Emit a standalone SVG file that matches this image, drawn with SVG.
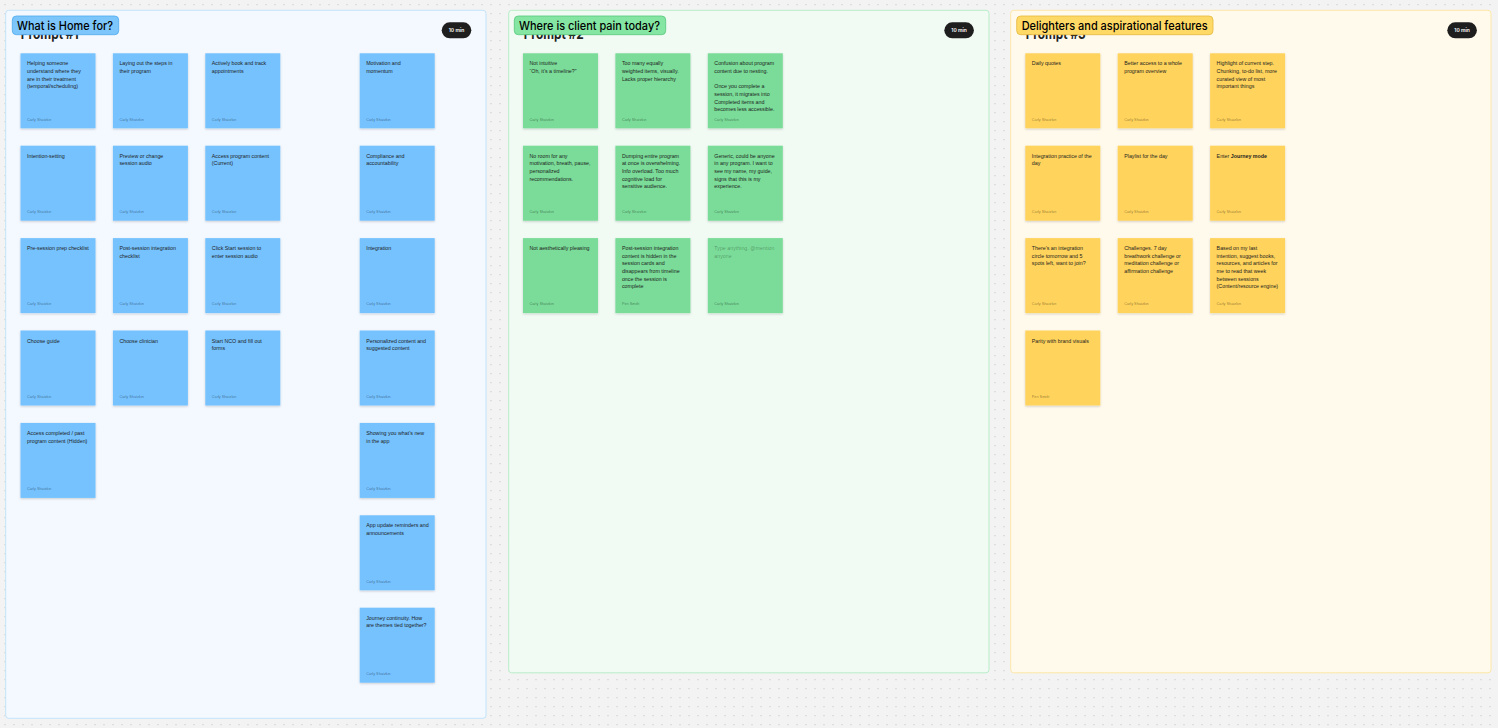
<svg xmlns="http://www.w3.org/2000/svg" width="1498" height="728" viewBox="0 0 1498 728">
<defs>
  <pattern id="dots" x="0" y="0" width="9" height="9" patternUnits="userSpaceOnUse">
    <rect x="4.5" y="4.2" width="1" height="1" fill="#bdbdbd"/>
  </pattern>
  <filter id="sh" x="-10%" y="-10%" width="120%" height="130%">
    <feDropShadow dx="0" dy="1" stdDeviation="0.8" flood-color="#000" flood-opacity="0.18"/>
  </filter>
  <style>
    .t { font-family: "Liberation Sans", Arial, sans-serif; font-size: 5.3px; fill: #1e1e1e; }
    .ph { fill: #000; fill-opacity: 0.32; }
    .a { font-family: "Liberation Sans", Arial, sans-serif; font-size: 3.8px; fill: #000; fill-opacity: 0.45; }
    .blue { fill: #75c2ff; filter: url(#sh); }
    .green { fill: #7adc98; filter: url(#sh); }
    .yellow { fill: #ffd35c; filter: url(#sh); }
    .lbl { font-family: Inter, "Liberation Sans", sans-serif; font-size: 12px; font-weight: 500; fill: #000; }
    .prompt { font-family: Inter, "Liberation Sans", sans-serif; font-size: 14px; font-weight: 700; fill: #1e1e1e; }
    .badge { fill: #1e1e1e; }
    .bt { font-family: Inter, "Liberation Sans", sans-serif; font-size: 5px; font-weight: 600; fill: #fff; text-anchor: middle; }
  </style>
</defs>

<rect width="1498" height="728" fill="#f3f3f3"/>
<rect width="1498" height="728" fill="url(#dots)"/>

<!-- Section 1 -->
<g id="section-1">
  <rect x="5.7" y="10.3" width="480.3" height="708" rx="3" fill="#f4f9ff" stroke="#c3e3fa" stroke-width="1"/>
  <text class="prompt" x="20.7" y="39" textLength="58" lengthAdjust="spacingAndGlyphs">Prompt #1</text>
  <rect x="12.3" y="16" width="106.4" height="18.7" rx="4" fill="#7cc6fc" stroke="#4fa9ec" stroke-width="0.8"/>
  <text class="lbl" x="17" y="30.3" textLength="96" lengthAdjust="spacingAndGlyphs">What is Home for?</text>
  <rect class="badge" x="441.7" y="22.3" width="29.6" height="16" rx="8"/>
  <text class="bt" x="456.5" y="32">10 min</text>
</g>

<!-- Section 2 -->
<g id="section-2">
  <rect x="508.7" y="10.3" width="480.3" height="662.5" rx="3" fill="#f1fbf4" stroke="#b9edc9" stroke-width="1"/>
  <text class="prompt" x="523.7" y="39" textLength="60" lengthAdjust="spacingAndGlyphs">Prompt #2</text>
  <rect x="514.3" y="16" width="151.4" height="18.7" rx="4" fill="#85e6a3" stroke="#55c77b" stroke-width="0.8"/>
  <text class="lbl" x="519" y="30.3" textLength="141" lengthAdjust="spacingAndGlyphs">Where is client pain today?</text>
  <rect class="badge" x="944.3" y="22.3" width="29.6" height="16" rx="8"/>
  <text class="bt" x="959.1" y="32">10 min</text>
</g>

<!-- Section 3 -->
<g id="section-3">
  <rect x="1010.7" y="10.3" width="480.3" height="662.5" rx="3" fill="#fffaec" stroke="#fde7a9" stroke-width="1"/>
  <text class="prompt" x="1025.7" y="39" textLength="60" lengthAdjust="spacingAndGlyphs">Prompt #3</text>
  <rect x="1016.7" y="16" width="196.3" height="18.7" rx="4" fill="#ffd966" stroke="#e4b83d" stroke-width="0.8"/>
  <text class="lbl" x="1021.7" y="30.3" textLength="186" lengthAdjust="spacingAndGlyphs">Delighters and aspirational features</text>
  <rect class="badge" x="1447.3" y="22.3" width="29.6" height="16" rx="8"/>
  <text class="bt" x="1462.1" y="32">10 min</text>
</g>

<g id="connectors"></g>

<!-- Section 1 stickies -->
<g id="s1-r1-c1" transform="translate(20.5,53.3)">
  <rect class="blue" width="75" height="75"/>
  <text class="t"><tspan x="6.5" y="12">Helping someone</tspan><tspan x="6.5" dy="7.67">understand where they</tspan><tspan x="6.5" dy="7.67">are in their treatment</tspan><tspan x="6.5" dy="7.67">(temporal/scheduling)</tspan></text>
  <text class="a" x="6.5" y="67.3">Carly Shatzkin</text>
</g>
<g id="s1-r1-c2" transform="translate(112.9,53.3)">
  <rect class="blue" width="75" height="75"/>
  <text class="t"><tspan x="6.5" y="12">Laying out the steps in</tspan><tspan x="6.5" dy="7.67">their program</tspan></text>
  <text class="a" x="6.5" y="67.3">Carly Shatzkin</text>
</g>
<g id="s1-r1-c3" transform="translate(205.3,53.3)">
  <rect class="blue" width="75" height="75"/>
  <text class="t"><tspan x="6.5" y="12">Actively book and track</tspan><tspan x="6.5" dy="7.67">appointments</tspan></text>
  <text class="a" x="6.5" y="67.3">Carly Shatzkin</text>
</g>
<g id="s1-r1-c4" transform="translate(359.7,53.3)">
  <rect class="blue" width="75" height="75"/>
  <text class="t"><tspan x="6.5" y="12">Motivation and</tspan><tspan x="6.5" dy="7.67">momentum</tspan></text>
  <text class="a" x="6.5" y="67.3">Carly Shatzkin</text>
</g>

<g id="s1-r2-c1" transform="translate(20.5,145.7)">
  <rect class="blue" width="75" height="75"/>
  <text class="t"><tspan x="6.5" y="12">Intention-setting</tspan></text>
  <text class="a" x="6.5" y="67.3">Carly Shatzkin</text>
</g>
<g id="s1-r2-c2" transform="translate(112.9,145.7)">
  <rect class="blue" width="75" height="75"/>
  <text class="t"><tspan x="6.5" y="12">Preview or change</tspan><tspan x="6.5" dy="7.67">session audio</tspan></text>
  <text class="a" x="6.5" y="67.3">Carly Shatzkin</text>
</g>
<g id="s1-r2-c3" transform="translate(205.3,145.7)">
  <rect class="blue" width="75" height="75"/>
  <text class="t"><tspan x="6.5" y="12">Access program content</tspan><tspan x="6.5" dy="7.67">(Current)</tspan></text>
  <text class="a" x="6.5" y="67.3">Carly Shatzkin</text>
</g>
<g id="s1-r2-c4" transform="translate(359.7,145.7)">
  <rect class="blue" width="75" height="75"/>
  <text class="t"><tspan x="6.5" y="12">Compliance and</tspan><tspan x="6.5" dy="7.67">accountability</tspan></text>
  <text class="a" x="6.5" y="67.3">Carly Shatzkin</text>
</g>

<g id="s1-r3-c1" transform="translate(20.5,238.1)">
  <rect class="blue" width="75" height="75"/>
  <text class="t"><tspan x="6.5" y="12">Pre-session prep checklist</tspan></text>
  <text class="a" x="6.5" y="67.3">Carly Shatzkin</text>
</g>
<g id="s1-r3-c2" transform="translate(112.9,238.1)">
  <rect class="blue" width="75" height="75"/>
  <text class="t"><tspan x="6.5" y="12">Post-session integration</tspan><tspan x="6.5" dy="7.67">checklist</tspan></text>
  <text class="a" x="6.5" y="67.3">Carly Shatzkin</text>
</g>
<g id="s1-r3-c3" transform="translate(205.3,238.1)">
  <rect class="blue" width="75" height="75"/>
  <text class="t"><tspan x="6.5" y="12">Click Start session to</tspan><tspan x="6.5" dy="7.67">enter session audio</tspan></text>
  <text class="a" x="6.5" y="67.3">Carly Shatzkin</text>
</g>
<g id="s1-r3-c4" transform="translate(359.7,238.1)">
  <rect class="blue" width="75" height="75"/>
  <text class="t"><tspan x="6.5" y="12">Integration</tspan></text>
  <text class="a" x="6.5" y="67.3">Carly Shatzkin</text>
</g>

<g id="s1-r4-c1" transform="translate(20.5,330.5)">
  <rect class="blue" width="75" height="75"/>
  <text class="t"><tspan x="6.5" y="12">Choose guide</tspan></text>
  <text class="a" x="6.5" y="67.3">Carly Shatzkin</text>
</g>
<g id="s1-r4-c2" transform="translate(112.9,330.5)">
  <rect class="blue" width="75" height="75"/>
  <text class="t"><tspan x="6.5" y="12">Choose clinician</tspan></text>
  <text class="a" x="6.5" y="67.3">Carly Shatzkin</text>
</g>
<g id="s1-r4-c3" transform="translate(205.3,330.5)">
  <rect class="blue" width="75" height="75"/>
  <text class="t"><tspan x="6.5" y="12">Start NCO and fill out</tspan><tspan x="6.5" dy="7.67">forms</tspan></text>
  <text class="a" x="6.5" y="67.3">Carly Shatzkin</text>
</g>
<g id="s1-r4-c4" transform="translate(359.7,330.5)">
  <rect class="blue" width="75" height="75"/>
  <text class="t"><tspan x="6.5" y="12">Personalized content and</tspan><tspan x="6.5" dy="7.67">suggested content</tspan></text>
  <text class="a" x="6.5" y="67.3">Carly Shatzkin</text>
</g>

<g id="s1-r5-c1" transform="translate(20.5,422.9)">
  <rect class="blue" width="75" height="75"/>
  <text class="t"><tspan x="6.5" y="12">Access completed / past</tspan><tspan x="6.5" dy="7.67">program content (Hidden)</tspan></text>
  <text class="a" x="6.5" y="67.3">Carly Shatzkin</text>
</g>
<g id="s1-r5-c4" transform="translate(359.7,422.9)">
  <rect class="blue" width="75" height="75"/>
  <text class="t"><tspan x="6.5" y="12">Showing you what’s new</tspan><tspan x="6.5" dy="7.67">in the app</tspan></text>
  <text class="a" x="6.5" y="67.3">Carly Shatzkin</text>
</g>
<g id="s1-r6-c4" transform="translate(359.7,515.3)">
  <rect class="blue" width="75" height="75"/>
  <text class="t"><tspan x="6.5" y="12">App update reminders and</tspan><tspan x="6.5" dy="7.67">announcements</tspan></text>
  <text class="a" x="6.5" y="67.3">Carly Shatzkin</text>
</g>
<g id="s1-r7-c4" transform="translate(359.7,607.7)">
  <rect class="blue" width="75" height="75"/>
  <text class="t"><tspan x="6.5" y="12">Journey continuity. How</tspan><tspan x="6.5" dy="7.67">are themes tied together?</tspan></text>
  <text class="a" x="6.5" y="67.3">Carly Shatzkin</text>
</g>

<!-- Section 2 stickies -->
<g id="s2-r1-c1" transform="translate(523,53.3)">
  <rect class="green" width="75" height="75"/>
  <text class="t"><tspan x="6.5" y="12">Not intuitive</tspan><tspan x="6.5" dy="7.67">“Oh, it’s a timeline?”</tspan></text>
  <text class="a" x="6.5" y="67.3">Carly Shatzkin</text>
</g>
<g id="s2-r1-c2" transform="translate(615.4,53.3)">
  <rect class="green" width="75" height="75"/>
  <text class="t"><tspan x="6.5" y="12">Too many equally</tspan><tspan x="6.5" dy="7.67">weighted items, visually.</tspan><tspan x="6.5" dy="7.67">Lacks proper hierarchy</tspan></text>
  <text class="a" x="6.5" y="67.3">Carly Shatzkin</text>
</g>
<g id="s2-r1-c3" transform="translate(707.8,53.3)">
  <rect class="green" width="75" height="75"/>
  <text class="t"><tspan x="6.5" y="12">Confusion about program</tspan><tspan x="6.5" dy="7.67">content due to nesting.</tspan><tspan x="6.5" dy="15.34">Once you complete a</tspan><tspan x="6.5" dy="7.67">session, it migrates into</tspan><tspan x="6.5" dy="7.67">Completed items and</tspan><tspan x="6.5" dy="7.67">becomes less accessible.</tspan></text>
  <text class="a" x="6.5" y="67.3">Carly Shatzkin</text>
</g>

<g id="s2-r2-c1" transform="translate(523,145.7)">
  <rect class="green" width="75" height="75"/>
  <text class="t"><tspan x="6.5" y="12">No room for any</tspan><tspan x="6.5" dy="7.67">motivation, breath, pause,</tspan><tspan x="6.5" dy="7.67">personalized</tspan><tspan x="6.5" dy="7.67">recommendations.</tspan></text>
  <text class="a" x="6.5" y="67.3">Carly Shatzkin</text>
</g>
<g id="s2-r2-c2" transform="translate(615.4,145.7)">
  <rect class="green" width="75" height="75"/>
  <text class="t"><tspan x="6.5" y="12">Dumping entire program</tspan><tspan x="6.5" dy="7.67">at once is overwhelming.</tspan><tspan x="6.5" dy="7.67">Info overload. Too much</tspan><tspan x="6.5" dy="7.67">cognitive load for</tspan><tspan x="6.5" dy="7.67">sensitive audience.</tspan></text>
  <text class="a" x="6.5" y="67.3">Carly Shatzkin</text>
</g>
<g id="s2-r2-c3" transform="translate(707.8,145.7)">
  <rect class="green" width="75" height="75"/>
  <text class="t"><tspan x="6.5" y="12">Generic, could be anyone</tspan><tspan x="6.5" dy="7.67">in any program. I want to</tspan><tspan x="6.5" dy="7.67">see my name, my guide,</tspan><tspan x="6.5" dy="7.67">signs that this is my</tspan><tspan x="6.5" dy="7.67">experience.</tspan></text>
  <text class="a" x="6.5" y="67.3">Carly Shatzkin</text>
</g>

<g id="s2-r3-c1" transform="translate(523,238.1)">
  <rect class="green" width="75" height="75"/>
  <text class="t"><tspan x="6.5" y="12">Not aesthetically pleasing</tspan></text>
  <text class="a" x="6.5" y="67.3">Carly Shatzkin</text>
</g>
<g id="s2-r3-c2" transform="translate(615.4,238.1)">
  <rect class="green" width="75" height="75"/>
  <text class="t"><tspan x="6.5" y="12">Post-session integration</tspan><tspan x="6.5" dy="7.67">content is hidden in the</tspan><tspan x="6.5" dy="7.67">session cards and</tspan><tspan x="6.5" dy="7.67">disappears from timeline</tspan><tspan x="6.5" dy="7.67">once the session is</tspan><tspan x="6.5" dy="7.67">complete</tspan></text>
  <text class="a" x="6.5" y="67.3">Peri Smith</text>
</g>
<g id="s2-r3-c3" transform="translate(707.8,238.1)">
  <rect class="green" width="75" height="75"/>
  <text class="t ph"><tspan x="6.5" y="12">Type anything, @mention</tspan><tspan x="6.5" dy="7.67">anyone</tspan></text>
  <text class="a" x="6.5" y="67.3">Carly Shatzkin</text>
</g>

<!-- Section 3 stickies -->
<g id="s3-r1-c1" transform="translate(1025.3,53.3)">
  <rect class="yellow" width="75" height="75"/>
  <text class="t"><tspan x="6.5" y="12">Daily quotes</tspan></text>
  <text class="a" x="6.5" y="67.3">Carly Shatzkin</text>
</g>
<g id="s3-r1-c2" transform="translate(1117.7,53.3)">
  <rect class="yellow" width="75" height="75"/>
  <text class="t"><tspan x="6.5" y="12">Better access to a whole</tspan><tspan x="6.5" dy="7.67">program overview</tspan></text>
  <text class="a" x="6.5" y="67.3">Carly Shatzkin</text>
</g>
<g id="s3-r1-c3" transform="translate(1210.1,53.3)">
  <rect class="yellow" width="75" height="75"/>
  <text class="t"><tspan x="6.5" y="12">Highlight of current step.</tspan><tspan x="6.5" dy="7.67">Chunking, to-do list, more</tspan><tspan x="6.5" dy="7.67">curated view of most</tspan><tspan x="6.5" dy="7.67">important things</tspan></text>
  <text class="a" x="6.5" y="67.3">Carly Shatzkin</text>
</g>

<g id="s3-r2-c1" transform="translate(1025.3,145.7)">
  <rect class="yellow" width="75" height="75"/>
  <text class="t"><tspan x="6.5" y="12">Integration practice of the</tspan><tspan x="6.5" dy="7.67">day</tspan></text>
  <text class="a" x="6.5" y="67.3">Carly Shatzkin</text>
</g>
<g id="s3-r2-c2" transform="translate(1117.7,145.7)">
  <rect class="yellow" width="75" height="75"/>
  <text class="t"><tspan x="6.5" y="12">Playlist for the day</tspan></text>
  <text class="a" x="6.5" y="67.3">Carly Shatzkin</text>
</g>
<g id="s3-r2-c3" transform="translate(1210.1,145.7)">
  <rect class="yellow" width="75" height="75"/>
  <text class="t"><tspan x="6.5" y="12">Enter </tspan><tspan font-weight="bold">Journey mode</tspan></text>
  <text class="a" x="6.5" y="67.3">Carly Shatzkin</text>
</g>

<g id="s3-r3-c1" transform="translate(1025.3,238.1)">
  <rect class="yellow" width="75" height="75"/>
  <text class="t"><tspan x="6.5" y="12">There’s an integration</tspan><tspan x="6.5" dy="7.67">circle tomorrow and 5</tspan><tspan x="6.5" dy="7.67">spots left, want to join?</tspan></text>
  <text class="a" x="6.5" y="67.3">Carly Shatzkin</text>
</g>
<g id="s3-r3-c2" transform="translate(1117.7,238.1)">
  <rect class="yellow" width="75" height="75"/>
  <text class="t"><tspan x="6.5" y="12">Challenges. 7 day</tspan><tspan x="6.5" dy="7.67">breathwork challenge or</tspan><tspan x="6.5" dy="7.67">meditation challenge or</tspan><tspan x="6.5" dy="7.67">affirmation challenge</tspan></text>
  <text class="a" x="6.5" y="67.3">Carly Shatzkin</text>
</g>
<g id="s3-r3-c3" transform="translate(1210.1,238.1)">
  <rect class="yellow" width="75" height="75"/>
  <text class="t"><tspan x="6.5" y="12">Based on my last</tspan><tspan x="6.5" dy="7.67">intention, suggest books,</tspan><tspan x="6.5" dy="7.67">resources, and articles for</tspan><tspan x="6.5" dy="7.67">me to read that week</tspan><tspan x="6.5" dy="7.67">between sessions</tspan><tspan x="6.5" dy="7.67">(Content/resource engine)</tspan></text>
  <text class="a" x="6.5" y="67.3">Carly Shatzkin</text>
</g>

<g id="s3-r4-c1" transform="translate(1025.3,330.5)">
  <rect class="yellow" width="75" height="75"/>
  <text class="t"><tspan x="6.5" y="12">Parity with brand visuals</tspan></text>
  <text class="a" x="6.5" y="67.3">Peri Smith</text>
</g>
</svg>
